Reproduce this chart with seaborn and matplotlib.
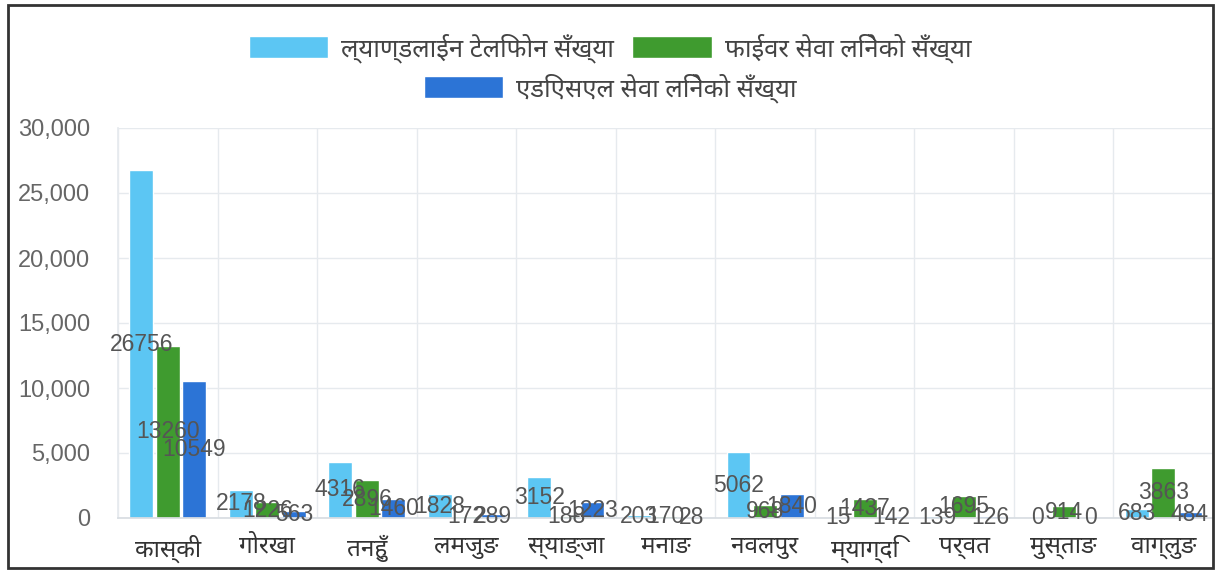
import matplotlib
matplotlib.use("Agg")
import matplotlib.pyplot as plt
from matplotlib import font_manager as fm
from matplotlib.patches import Rectangle
from matplotlib.ticker import FuncFormatter, FixedLocator
import seaborn as sns
import pandas as pd

# ---- data ----
categories = ['कास्की', 'गोरखा', 'तनहुँ', 'लमजुङ', 'स्याङ्जा', 'मनाङ',
              'नवलपुर', 'म्याग्दि', 'पर्वत', 'मुस्ताङ', 'वाग्लुङ']
series_names = ['ल्याण्डलाईन टेलिफोन सँख्या', 'फाईवर सेवा लिनेको सँख्या',
                'एडिएसएल सेवा लिनेको सँख्या']
landline = [26756, 2178, 4316, 1828, 3152, 203, 5062, 15, 139, 0, 683]
fiber = [13260, 1226, 2896, 172, 188, 170, 968, 1437, 1695, 914, 3863]
adsl = [10549, 563, 1460, 289, 1223, 28, 1840, 142, 126, 0, 484]
y_ticks = [0, 5000, 10000, 15000, 20000, 25000, 30000]
colors = ['#5cc6f3', '#3f9b2f', '#2c74d6']

# ---- fonts ----
names = {f.name for f in fm.fontManager.ttflist}
deva = next((n for n in ['Noto Sans Devanagari', 'Mukta', 'Ek Mukta', 'Hind',
                         'Anek Devanagari', 'FreeSans'] if n in names), 'FreeSans')
deva_family = [deva, 'DejaVu Sans']
latin = 'Liberation Sans'

sns.set_theme(style='white')
plt.rcParams['font.family'] = [latin, 'DejaVu Sans']

df = pd.DataFrame({
    'district': categories * 3,
    'series': [series_names[0]] * 11 + [series_names[1]] * 11 + [series_names[2]] * 11,
    'value': landline + fiber + adsl,
})

fig = plt.figure(figsize=(12.2, 5.73), dpi=100)
ax = fig.add_axes([118 / 1220, 1 - 518 / 573, (1213 - 118) / 1220, (518 - 128) / 573])

sns.barplot(data=df, x='district', y='value', hue='series', order=categories,
            hue_order=series_names, palette=colors, width=0.8, gap=0.1,
            saturation=1, ax=ax, errorbar=None, legend=True)

ax.set_xlim(-0.5, len(categories) - 0.5)
ax.set_ylim(0, 30000)
ax.set_yticks(y_ticks)
ax.yaxis.set_major_formatter(FuncFormatter(lambda v, p: f'{int(v):,}'))
ax.set_xlabel('')
ax.set_ylabel('')

# grid
ax.xaxis.set_minor_locator(FixedLocator([i - 0.5 for i in range(len(categories) + 1)]))
ax.grid(True, axis='y', which='major', color='#e6eaee', lw=1)
ax.grid(True, axis='x', which='minor', color='#e6eaee', lw=1)
ax.grid(False, axis='x', which='major')
ax.set_axisbelow(True)
for s in ['top', 'right']:
    ax.spines[s].set_visible(False)
ax.spines['left'].set_color('#e6eaee')
ax.spines['bottom'].set_color('#d8dde2')

ax.tick_params(axis='y', length=0, pad=20, labelsize=17, labelcolor='#666666')
ax.tick_params(axis='x', which='both', length=0, pad=12)
for lbl in ax.get_xticklabels():
    lbl.set_fontfamily(deva_family)
    lbl.set_fontsize(17.5)
    lbl.set_color('#333333')

# data labels at bar middle
for cont in ax.containers:
    for bar in cont:
        h = bar.get_height()
        ax.text(bar.get_x() + bar.get_width() / 2, h / 2, f'{int(round(h))}',
                ha='center', va='center', fontsize=16.5, color='#555555')

# legend
handles, labels = ax.get_legend_handles_labels()
ax.get_legend().remove()
leg_kw = dict(frameon=False, prop={'family': deva_family, 'size': 18.5},
              handlelength=3.1, handleheight=0.95, handletextpad=0.5,
              columnspacing=0.7, labelcolor='#444444')
leg1 = fig.legend(handles[:2], labels[:2], ncol=2, loc='center',
                  bbox_to_anchor=(0.5, 1 - 48 / 573), **leg_kw)
leg2 = fig.legend(handles[2:], labels[2:], ncol=1, loc='center',
                  bbox_to_anchor=(0.5, 1 - 88 / 573), **leg_kw)

# outer frame
fig.patches.append(Rectangle((8 / 1220, 1 - 568 / 573), (1213 - 8) / 1220, (568 - 5) / 573,
                             transform=fig.transFigure, fill=False, lw=2,
                             edgecolor='#333333'))

fig.savefig('out.png', dpi=100)
